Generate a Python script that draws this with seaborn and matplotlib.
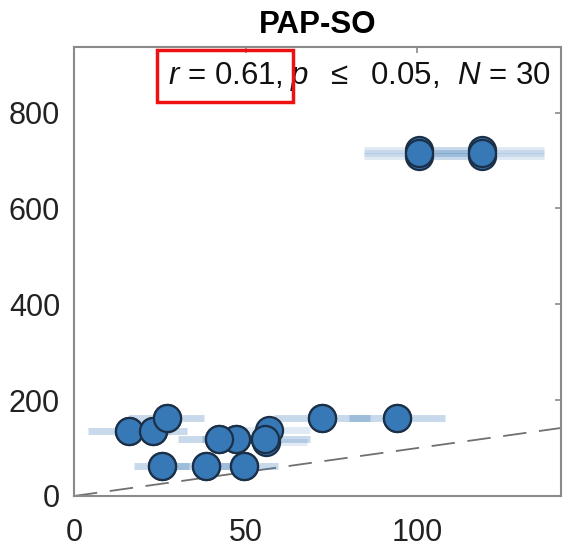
import numpy as np
import pandas as pd
import matplotlib
matplotlib.use('Agg')
import matplotlib.pyplot as plt
import seaborn as sns

# values
x_vals = [16.0, 23.0, 27.0, 25.6, 38.6, 49.5, 42.2, 47.3, 55.8, 56.0, 56.8, 72.4, 94.3,
          25.6, 38.6, 49.5, 47.3, 72.4, 94.3, 16.0, 23.0, 42.2, 55.8, 27.0,
          100.5, 100.5, 119.0, 119.0, 100.5, 119.0]
y_vals = [136, 136, 162, 63, 63, 63, 118, 118, 118, 112, 138, 162, 162,
          63, 63, 63, 118, 162, 162, 136, 136, 118, 118, 162,
          723, 710, 723, 710, 716, 716]
x_err = [12, 10, 11, 8, 10, 10, 12, 10, 13, 12, 12, 14, 14,
         8, 10, 10, 10, 14, 14, 12, 10, 12, 13, 11,
         16, 16, 18, 18, 16, 18]
y_err = [25] * 30

title = 'PAP-SO'
stat_r = r'$r$ = 0.61,'
stat_rest = r' $p$  $\leq$  0.05,  $N$ = 30'
x_ticks = [0, 50, 100]
y_ticks = [0, 200, 400, 600, 800]

df = pd.DataFrame({'x': x_vals, 'y': y_vals, 'xerr': x_err, 'yerr': y_err})

sns.set_style('white')
plt.rcParams['font.family'] = ['Liberation Sans', 'DejaVu Sans']
plt.rcParams['mathtext.fontset'] = 'custom'
plt.rcParams['mathtext.rm'] = 'Liberation Sans'
plt.rcParams['mathtext.it'] = 'Liberation Sans:italic'

fig = plt.figure(figsize=(5.64, 5.48), dpi=100)
ax = fig.add_axes([0.1312, 0.0949, 0.8636, 0.8193])

# identity line
ax.plot([0, 142], [0, 142], color='#707070', lw=1.3, dashes=(13, 7), zorder=1)

# error bars
ax.errorbar(df['x'], df['y'], xerr=df['xerr'], yerr=df['yerr'], fmt='none',
            ecolor='#3778b7', alpha=0.15, elinewidth=5, capsize=0, zorder=2)

sns.scatterplot(data=df, x='x', y='y', s=380, color='#3778b7',
                edgecolor='#1b2f47', linewidth=1.6, ax=ax, zorder=3)

ax.set_xlim(0, 142)
ax.set_ylim(0, 937)
ax.set_xticks(x_ticks)
ax.set_yticks(y_ticks)
ax.set_xlabel('')
ax.set_ylabel('')
ax.set_title(title, fontsize=22.5, fontweight='bold', color='black', pad=10)

for s in ax.spines.values():
    s.set_visible(True)
    s.set_color('#8a8a8a')
    s.set_linewidth(1.5)
ax.tick_params(direction='in', length=4, width=1.2, color='#8a8a8a',
               labelsize=22, labelcolor='#222222', top=True, right=True)
ax.tick_params(axis='x', pad=16)
ax.tick_params(axis='y', pad=10)

t2 = ax.text(0.98, 0.935, stat_rest, transform=ax.transAxes, ha='right',
             va='center', fontsize=22.5, color='#111111')
ax.annotate(stat_r, xy=(0, 0.5), xycoords=t2, ha='right', va='center',
            fontsize=22.5, color='#111111',
            bbox=dict(boxstyle='square,pad=0.35', fc='none', ec='#ee1111', lw=2.5))

fig.savefig('out.png', dpi=100)
